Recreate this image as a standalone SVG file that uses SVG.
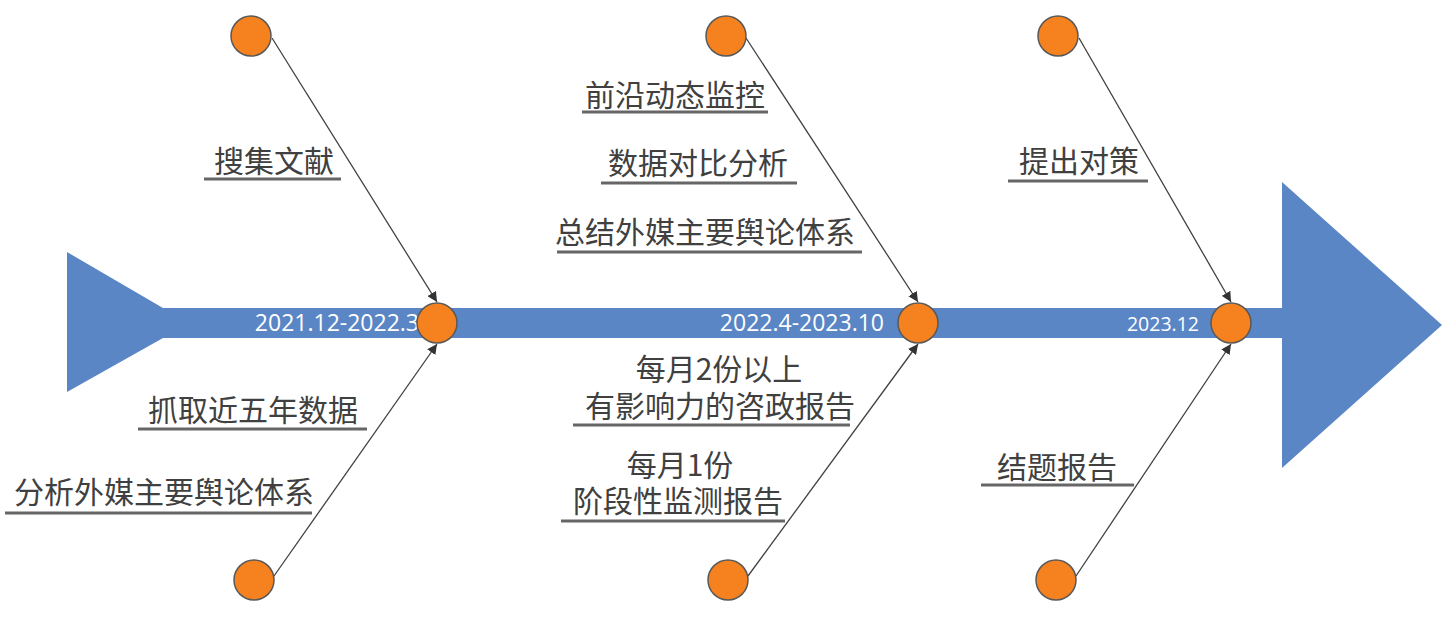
<svg xmlns="http://www.w3.org/2000/svg" width="1454" height="633" viewBox="0 0 1454 633">
<defs>
<marker id="ah" viewBox="0 0 10 10" refX="10" refY="5" markerWidth="10" markerHeight="10" markerUnits="userSpaceOnUse" orient="auto">
<path d="M0,0 L10,5 L0,10 Z" fill="#333333"/>
</marker>
<style>
.dot{fill:#F5821F;stroke:#595959;stroke-width:1.5}
.lbl{font-family:"Noto Sans CJK SC","Noto Sans",sans-serif;font-size:30px;fill:#404040;text-anchor:middle}
.ul{stroke:#666666;stroke-width:3}
.date{font-family:"Open Sans","Noto Sans",sans-serif;font-size:23px;fill:#ffffff;text-anchor:end}
.con{stroke:#404040;stroke-width:1.3;fill:none;marker-end:url(#ah)}
</style>
</defs>
<rect width="1454" height="633" fill="#ffffff"/>
<g id="spine">
<polygon fill="#5A86C6" points="67,252 163,308 1282,308 1282,182 1442,325 1282,468 1282,338 163,338 67,392"/>
</g>
<g id="connectors">
<line class="con" x1="272" y1="38" x2="437" y2="302"/>
<line class="con" x1="274" y1="576" x2="437" y2="344"/>
<line class="con" x1="746" y1="38" x2="918" y2="302"/>
<line class="con" x1="748" y1="576" x2="918" y2="344"/>
<line class="con" x1="1079" y1="38" x2="1231" y2="302"/>
<line class="con" x1="1076" y1="576" x2="1231" y2="344"/>
</g>
<g id="milestone1">
<text class="date" x="419" y="331">2021.12-2022.3</text>
<circle class="dot" cx="437" cy="323" r="20"/>
</g>
<g id="milestone2">
<text class="date" x="884" y="331">2022.4-2023.10</text>
<circle class="dot" cx="918" cy="323" r="20"/>
</g>
<g id="milestone3">
<text class="date" x="1199" y="331" style="font-size:19.5px">2023.12</text>
<circle class="dot" cx="1231" cy="323" r="20"/>
</g>
<g id="top1">
<circle class="dot" cx="251" cy="36" r="20"/>
<text class="lbl" x="274" y="172">搜集文献</text>
<line class="ul" x1="204" y1="179" x2="341" y2="179"/>
</g>
<g id="bottom1">
<circle class="dot" cx="254" cy="580" r="20"/>
<text class="lbl" x="253" y="421">抓取近五年数据</text>
<line class="ul" x1="138" y1="429" x2="367" y2="429"/>
<text class="lbl" x="164" y="503">分析外媒主要舆论体系</text>
<line class="ul" x1="5" y1="513" x2="312" y2="513"/>
</g>
<g id="top2">
<circle class="dot" cx="726" cy="36" r="20"/>
<text class="lbl" x="675" y="106">前沿动态监控</text>
<line class="ul" x1="582" y1="112" x2="768" y2="112"/>
<text class="lbl" x="698" y="174">数据对比分析</text>
<line class="ul" x1="601" y1="183" x2="797" y2="183"/>
<text class="lbl" x="705" y="243">总结外媒主要舆论体系</text>
<line class="ul" x1="557" y1="252" x2="862" y2="252"/>
</g>
<g id="bottom2">
<circle class="dot" cx="728" cy="580" r="20"/>
<text class="lbl"><tspan x="719" y="380">每月2份以上</tspan><tspan x="720" y="417">有影响力的咨政报告</tspan></text>
<line class="ul" x1="573" y1="425" x2="850" y2="425"/>
<text class="lbl"><tspan x="680" y="476">每月1份</tspan><tspan x="678" y="512">阶段性监测报告</tspan></text>
<line class="ul" x1="561" y1="521" x2="785" y2="521"/>
</g>
<g id="top3">
<circle class="dot" cx="1058" cy="36" r="20"/>
<text class="lbl" x="1079" y="172">提出对策</text>
<line class="ul" x1="1008" y1="181" x2="1148" y2="181"/>
</g>
<g id="bottom3">
<circle class="dot" cx="1056" cy="580" r="20"/>
<text class="lbl" x="1057" y="478">结题报告</text>
<line class="ul" x1="981" y1="485" x2="1134" y2="485"/>
</g>
</svg>
